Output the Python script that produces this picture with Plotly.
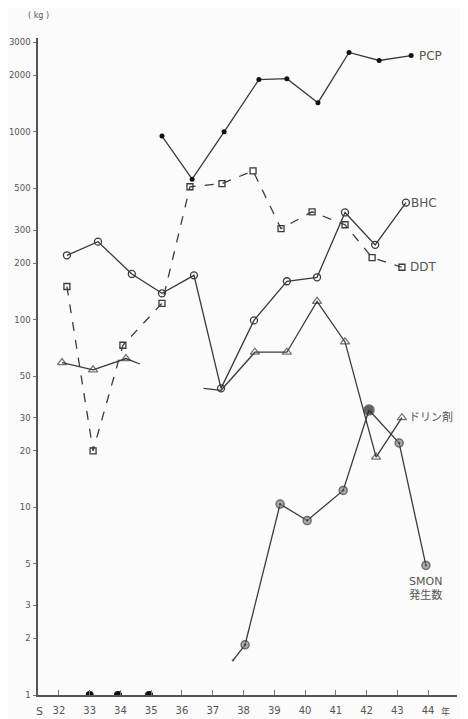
import math
import plotly.graph_objects as go

# ---- data (x = Showa year position, y = kg / cases) ----
pcp_x = [35.35, 36.33, 37.37, 38.5, 39.41, 40.42, 41.43, 42.41, 43.45]
pcp_y = [950, 560, 1000, 1900, 1920, 1430, 2650, 2400, 2550]

bhc_x = [32.26, 33.27, 34.37, 35.35, 36.39, 37.27, 38.34, 39.41, 40.39, 41.3, 42.28, 43.28]
bhc_y = [220, 260, 175, 138, 172, 43, 99, 160, 168, 372, 250, 420]

ddt_x = [32.26, 33.11, 34.08, 35.35, 36.26, 37.3, 38.31, 39.22, 40.23, 41.3, 42.18, 43.15]
ddt_y = [150, 20, 73, 122, 510, 530, 620, 305, 375, 320, 214, 190]

drin_x = [32.1, 33.11, 34.18, 34.63, None, 36.7, 37.27, 38.37, 39.41, 40.39, 41.3, 42.31, 43.15]
drin_y = [59, 54, 62, 58, None, 43, 42, 67, 67, 125, 76, 18.5, 30]
drin_marker = [1, 1, 1, 0, 0, 0, 0, 1, 1, 1, 1, 1, 1]

smon_zero_x = [33.0, 33.92, 34.93]
smon_zero_y = [1, 1, 1]
smon_x = [37.66, 38.05, 39.19, 40.07, 41.24, 42.08, 43.06, 43.93]
smon_y = [1.53, 1.85, 10.4, 8.5, 12.3, 33, 22, 4.9]
smon_marker = [0, 1, 1, 1, 1, 2, 1, 1]

year_ticks = list(range(32, 45))
year_labels = [str(v) for v in year_ticks]
y_ticks = [1, 2, 3, 5, 10, 20, 30, 50, 100, 200, 300, 500, 1000, 2000, 3000]
y_labels = [str(v) for v in y_ticks]

INK = "#3a3a3a"
GREY = "#555555"
FONT = "DejaVu Sans, Noto Sans CJK JP, sans-serif"

fig = go.Figure()

fig.add_trace(go.Scatter(
    x=pcp_x, y=pcp_y, mode="lines+markers",
    line=dict(color=INK, width=1.3),
    marker=dict(symbol="circle", size=5, color="#111111"),
))
fig.add_trace(go.Scatter(
    x=bhc_x, y=bhc_y, mode="lines+markers",
    line=dict(color=INK, width=1.3),
    marker=dict(symbol="circle-open", size=7, color=INK, line=dict(width=1.3)),
))
fig.add_trace(go.Scatter(
    x=ddt_x, y=ddt_y, mode="lines+markers",
    line=dict(color=INK, width=1.3, dash="dash"),
    marker=dict(symbol="square-open", size=6, color=INK, line=dict(width=1.3)),
))
fig.add_trace(go.Scatter(
    x=drin_x, y=drin_y, mode="lines+markers", connectgaps=False,
    line=dict(color=INK, width=1.3),
    marker=dict(symbol="triangle-up-open", size=[8 if m else 0 for m in drin_marker],
                color=INK, line=dict(width=1.3)),
))
fig.add_trace(go.Scatter(
    x=smon_zero_x, y=smon_zero_y, mode="markers", cliponaxis=True,
    marker=dict(symbol="circle", size=8, color="#111111"),
))
fig.add_trace(go.Scatter(
    x=smon_x, y=smon_y, mode="lines+markers",
    line=dict(color=INK, width=1.3),
    marker=dict(symbol="circle-dot",
                size=[0 if m == 0 else (10 if m == 2 else 8) for m in smon_marker],
                color=["#222222" if m == 2 else "#8a8a8a" for m in smon_marker],
                line=dict(color="#333333", width=1.5)),
))


def label(x, y, text, dx=6, size=12):
    fig.add_annotation(x=x, y=math.log10(y), xref="x", yref="y", text=text,
                       showarrow=False, xanchor="left", xshift=dx,
                       font=dict(family=FONT, size=size, color=GREY))


label(pcp_x[-1], pcp_y[-1], "PCP", dx=6)
label(bhc_x[-1], bhc_y[-1], "BHC", dx=3)
label(ddt_x[-1], ddt_y[-1], "DDT", dx=6)
label(drin_x[-1], drin_y[-1], "ドリン剤", dx=5, size=11)

fig.add_annotation(x=smon_x[-1], y=math.log10(smon_y[-1]), xref="x", yref="y",
                   text="SMON<br>発生数", showarrow=False, xanchor="center",
                   yanchor="top", yshift=-8, align="center",
                   font=dict(family=FONT, size=11, color=GREY))
fig.add_annotation(x=0, y=1, xref="paper", yref="paper", text="( kg )",
                   showarrow=False, xanchor="center", yanchor="middle",
                   xshift=0, yshift=23, font=dict(family=FONT, size=8, color=GREY))
fig.add_annotation(x=31.38, y=0, xref="x", yref="paper", text="S", showarrow=False,
                   xanchor="center", yanchor="top", yshift=-8,
                   font=dict(family=FONT, size=11, color=GREY))
fig.add_annotation(x=44.55, y=0, xref="x", yref="paper", text="年", showarrow=False,
                   xanchor="center", yanchor="top", yshift=-8,
                   font=dict(family="Noto Sans CJK JP", size=9, color=GREY))

fig.update_xaxes(
    range=[31.32, 44.94], tickvals=year_ticks, ticktext=year_labels,
    ticks="inside", ticklen=5, tickcolor="#777", tickwidth=1,
    showline=True, linecolor=GREY, linewidth=1.5, showgrid=False, zeroline=False,
    tickfont=dict(family=FONT, size=10, color=GREY), ticklabelstandoff=5,
    automargin=False,
)
fig.update_yaxes(
    type="log", range=[0, 3.5], tickvals=y_ticks, ticktext=y_labels,
    ticks="outside", ticklen=3, tickcolor="#777", tickwidth=1,
    showline=True, linecolor=GREY, linewidth=1.5, showgrid=False, zeroline=False,
    tickfont=dict(family=FONT, size=8.5, color=GREY), ticklabelstandoff=1,
    automargin=False,
)
# the page body adds an 8px offset, so the figure is 8px smaller than the window
fig.update_layout(
    width=460, height=711,
    margin=dict(l=30, r=11, t=30, b=24),
    paper_bgcolor="#fbfbfb", plot_bgcolor="#fbfbfb",
    showlegend=False,
)
fig.write_html("out.html")
